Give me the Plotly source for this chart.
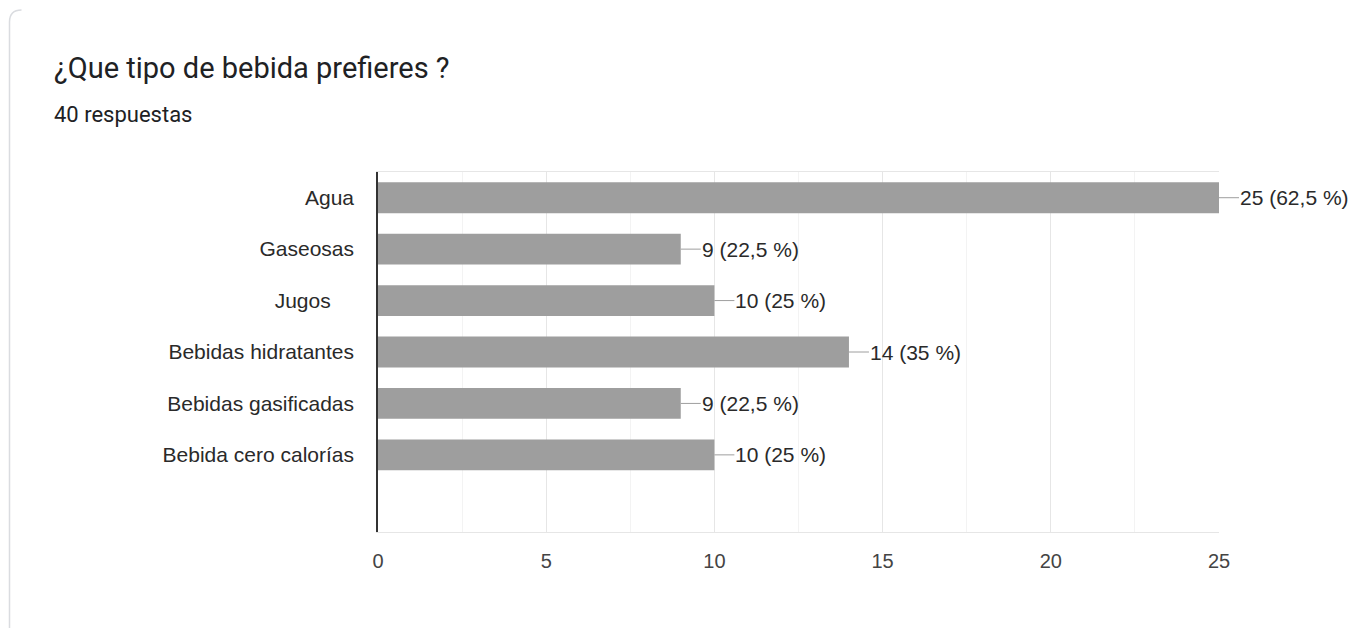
import plotly.graph_objects as go

# ---- data ----
categories = ["Agua", "Gaseosas", "Jugos\u00a0\u00a0\u00a0\u00a0", "Bebidas hidratantes",
              "Bebidas gasificadas", "Bebida cero calorías"]
counts = [25, 9, 10, 14, 9, 10]
total_responses = 40
x_ticks = [0, 5, 10, 15, 20, 25]
title_text = "¿Que tipo de bebida prefieres ?"
subtitle_text = f"{total_responses} respuestas"

W, H = 1367, 628
L, R, T, B = 378, 148, 172, 96
pw, ph = W - L - R, H - T - B


def px_to_paper_x(px):
    return (px - L) / pw


def px_to_paper_y(py):
    return (H - B - py) / ph


def fmt_label(v):
    pct = v / total_responses * 100
    s = f"{pct:g}".replace(".", ",")
    return f"{v} ({s} %)"


fig = go.Figure()
fig.add_trace(go.Bar(
    x=counts,
    y=list(range(len(categories))),
    orientation="h",
    marker=dict(color="#9e9e9e", line=dict(width=0)),
    width=0.6,
    hoverinfo="skip",
))

annotations = []
for i, v in enumerate(counts):
    annotations.append(dict(
        x=v, y=i, xref="x", yref="y",
        text=fmt_label(v),
        showarrow=True, arrowhead=0, arrowwidth=1, arrowcolor="#9e9e9e",
        ax=20, ay=0, xanchor="left", yanchor="middle",
        standoff=0, borderpad=0,
        font=dict(family="Liberation Sans, Arial", size=21, color="#2a2a2a"),
    ))

# title & subtitle
annotations.append(dict(
    x=px_to_paper_x(52), y=px_to_paper_y(68), xref="paper", yref="paper",
    text=title_text, showarrow=False, xanchor="left", yanchor="middle",
    font=dict(family="Roboto, Noto Sans", size=29, color="#202124"),
))
annotations.append(dict(
    x=px_to_paper_x(52), y=px_to_paper_y(115), xref="paper", yref="paper",
    text=subtitle_text, showarrow=False, xanchor="left", yanchor="middle",
    font=dict(family="Roboto, Noto Sans", size=22, color="#202124"),
))

# card border (left edge with rounded top corner)
bx = px_to_paper_x(9.5)
by_top = px_to_paper_y(10)
by_bot = px_to_paper_y(640)
rx = 12 / pw
ry = 12 / ph
card_path = (f"M {bx},{by_bot} L {bx},{by_top - ry} "
             f"Q {bx},{by_top} {bx + rx},{by_top}")

fig.update_layout(
    width=W, height=H,
    margin=dict(l=L, r=R, t=T, b=B),
    paper_bgcolor="white", plot_bgcolor="white",
    showlegend=False,
    annotations=annotations,
    shapes=[dict(type="path", path=card_path, xref="paper", yref="paper",
                 line=dict(color="#dadce0", width=1.5), layer="below")],
    xaxis=dict(
        range=[0, 25], tickvals=x_ticks, ticktext=[str(t) for t in x_ticks],
        showgrid=True, gridcolor="#e6e6e6", gridwidth=1,
        minor=dict(dtick=2.5, tick0=0, showgrid=True, gridcolor="#f3f3f3", gridwidth=1),
        zeroline=False, showline=True, linecolor="#e6e6e6", linewidth=1, mirror=True,
        ticks="", ticklabelstandoff=11,
        tickfont=dict(family="Liberation Sans, Arial", size=20, color="#444444"),
        fixedrange=True,
    ),
    yaxis=dict(
        range=[len(categories) + 0.5, -0.5],
        tickvals=list(range(len(categories))), ticktext=categories,
        showgrid=False, zeroline=False,
        showline=True, linecolor="#333333", linewidth=1.5,
        ticks="", ticklabelstandoff=18,
        tickfont=dict(family="Liberation Sans, Arial", size=21, color="#2a2a2a"),
        fixedrange=True,
    ),
    bargap=0.4,
)

fig.write_html("out.html")
